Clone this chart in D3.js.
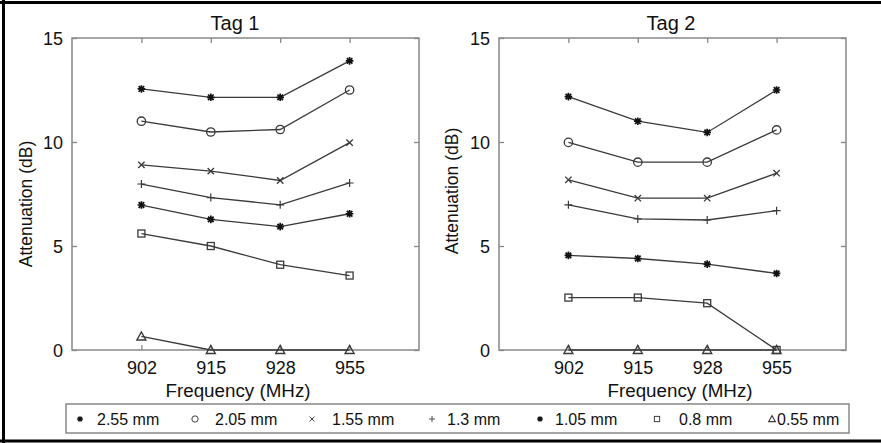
<!DOCTYPE html>
<html><head><meta charset="utf-8">
<script src="https://cdn.jsdelivr.net/npm/d3@7"></script>
<style>body{margin:0;background:#fff}svg{display:block}text{font-family:"Liberation Sans",Arial,sans-serif;fill:#111}</style>
</head><body>
<svg id="c" width="881" height="443"></svg>
<script>
const frequencies = ["902", "915", "928", "955"];
const seriesNames = ["2.55 mm", "2.05 mm", "1.55 mm", "1.3 mm", "1.05 mm", "0.8 mm", "0.55 mm"];
const markerTypes = ["asterisk", "circle", "cross", "plus", "asterisk", "square", "triangle"];
const yTicks = [0, 5, 10, 15];
const tag1 = [
  [12.55, 12.15, 12.15, 13.9],
  [11.0, 10.48, 10.6, 12.5],
  [8.9, 8.6, 8.15, 9.97],
  [7.98, 7.33, 6.98, 8.03],
  [6.97, 6.28, 5.93, 6.55],
  [5.6, 5.0, 4.1, 3.58],
  [0.65, 0, 0, 0]
];
const tag2 = [
  [12.18, 11.0, 10.46, 12.5],
  [9.98, 9.03, 9.03, 10.58],
  [8.18, 7.3, 7.3, 8.5],
  [6.98, 6.3, 6.25, 6.7],
  [4.55, 4.4, 4.13, 3.68],
  [2.52, 2.52, 2.25, 0],
  [0, 0, 0, 0]
];
const titles = ["Tag 1", "Tag 2"];

(function(){
const svg = d3.select("#c");
svg.append("line").attr("x1",0).attr("x2",881).attr("y1",2.5).attr("y2",2.5).attr("stroke","#000").attr("stroke-width",3);
svg.append("line").attr("x1",3.5).attr("x2",3.5).attr("y1",0).attr("y2",443).attr("stroke","#000").attr("stroke-width",3);
svg.append("line").attr("x1",0).attr("x2",881).attr("y1",441).attr("y2",441).attr("stroke","#000").attr("stroke-width",3);

const lineColor = "#3a3a3a";
function drawMarker(g, type, x, y) {
  const s = 3.8;
  if (type === "circle") {
    g.append("circle").attr("cx",x).attr("cy",y).attr("r",4.2).attr("fill","none").attr("stroke",lineColor).attr("stroke-width",1.3);
  } else if (type === "square") {
    g.append("rect").attr("x",x-3.5).attr("y",y-3.5).attr("width",7).attr("height",7).attr("fill","none").attr("stroke",lineColor).attr("stroke-width",1.3);
  } else if (type === "triangle") {
    g.append("path").attr("d",`M${x},${y-4.5}L${x+4.5},${y+3.5}L${x-4.5},${y+3.5}Z`).attr("fill","none").attr("stroke",lineColor).attr("stroke-width",1.4);
  } else if (type === "plus") {
    g.append("path").attr("d",`M${x-4},${y}H${x+4}M${x},${y-4}V${y+4}`).attr("stroke",lineColor).attr("stroke-width",1.2);
  } else if (type === "cross") {
    g.append("path").attr("d",`M${x-3.2},${y-3.2}L${x+3.2},${y+3.2}M${x-3.2},${y+3.2}L${x+3.2},${y-3.2}`).attr("stroke",lineColor).attr("stroke-width",1.3);
  } else if (type === "asterisk") {
    g.append("path").attr("d",`M${x-s},${y}H${x+s}M${x},${y-s}V${y+s}M${x-2.8},${y-2.8}L${x+2.8},${y+2.8}M${x-2.8},${y+2.8}L${x+2.8},${y-2.8}`).attr("stroke","#111").attr("stroke-width",1.7);
  }
}

const panels = [
  {data: tag1, x0: 72, x1: 419, ylabX: 26, ylabY: 204, xlabX: 238, titleX: 235},
  {data: tag2, x0: 499, x1: 846, ylabX: 452, ylabY: 191, xlabX: 680, titleX: 671}
];
const plotTop = 38, plotBottom = 350;
panels.forEach((p, pi) => {
  const g = svg.append("g");
  const x = d3.scalePoint().domain(["", ...frequencies, " "]).range([p.x0, p.x1]);
  const y = d3.scaleLinear().domain([0, 15]).range([plotBottom, plotTop]);
  g.append("rect").attr("x",p.x0).attr("y",plotTop).attr("width",p.x1-p.x0).attr("height",plotBottom-plotTop)
    .attr("fill","none").attr("stroke","#888").attr("stroke-width",1.5);
  const ax = g.append("g").attr("transform",`translate(0,${plotBottom})`)
    .call(d3.axisBottom(x).tickValues(frequencies).tickSizeInner(-5).tickSizeOuter(0).tickPadding(11));
  const axT = g.append("g").attr("transform",`translate(0,${plotTop})`)
    .call(d3.axisTop(x).tickValues(frequencies).tickSizeInner(-5).tickSizeOuter(0).tickFormat(""));
  const ay = g.append("g").attr("transform",`translate(${p.x0},0)`)
    .call(d3.axisLeft(y).tickValues(yTicks).tickSizeInner(-5).tickSizeOuter(0).tickPadding(9));
  const ayR = g.append("g").attr("transform",`translate(${p.x1},0)`)
    .call(d3.axisRight(y).tickValues(yTicks).tickSizeInner(-5).tickSizeOuter(0).tickFormat(""));
  [ax, axT, ay, ayR].forEach(a => {
    a.select(".domain").remove();
    a.selectAll(".tick line").attr("stroke","#888").attr("stroke-width",1.3);
    a.selectAll(".tick text").attr("font-size",18).style("font-family","'Liberation Sans',Arial,sans-serif").attr("fill","#111");
  });
  ay.selectAll(".tick text").attr("dy","0.36em");
  g.append("text").attr("x",p.titleX).attr("y",30).attr("text-anchor","middle").attr("font-size",20).text(titles[pi]);
  g.append("text").attr("x",p.xlabX).attr("y",397).attr("text-anchor","middle").attr("font-size",18.8).text("Frequency (MHz)");
  g.append("text").attr("transform",`translate(${p.ylabX},${p.ylabY}) rotate(-90)`).attr("dy","0.35em")
    .attr("text-anchor","middle").attr("font-size",17.5).text("Attenuation (dB)");
  const line = d3.line().x((d,i) => x(frequencies[i])).y(d => y(d));
  p.data.forEach((vals, si) => {
    g.append("path").attr("d", line(vals)).attr("fill","none").attr("stroke",lineColor).attr("stroke-width",1.3);
    vals.forEach((v, i) => drawMarker(g, markerTypes[si], x(frequencies[i]), y(v)));
  });
});

const lg = svg.append("g");
lg.append("rect").attr("x",66).attr("y",404).attr("width",783).attr("height",29).attr("fill","#fff").attr("stroke","#888").attr("stroke-width",1.5);
const legMarkerX = [80, 195, 312, 432, 540, 657, 772];
const legTextX = [97, 215, 332, 447, 555, 679, 777];
const legScale = 0.75;
seriesNames.forEach((n, i) => {
  const mg = lg.append("g").attr("transform",`translate(${legMarkerX[i]},419) scale(${legScale})`);
  drawMarker(mg, markerTypes[i], 0, 0);
  lg.append("text").attr("x",legTextX[i]).attr("y",419).attr("dy","0.36em").attr("font-size",16).text(n);
});
})();
</script>
</body></html>
